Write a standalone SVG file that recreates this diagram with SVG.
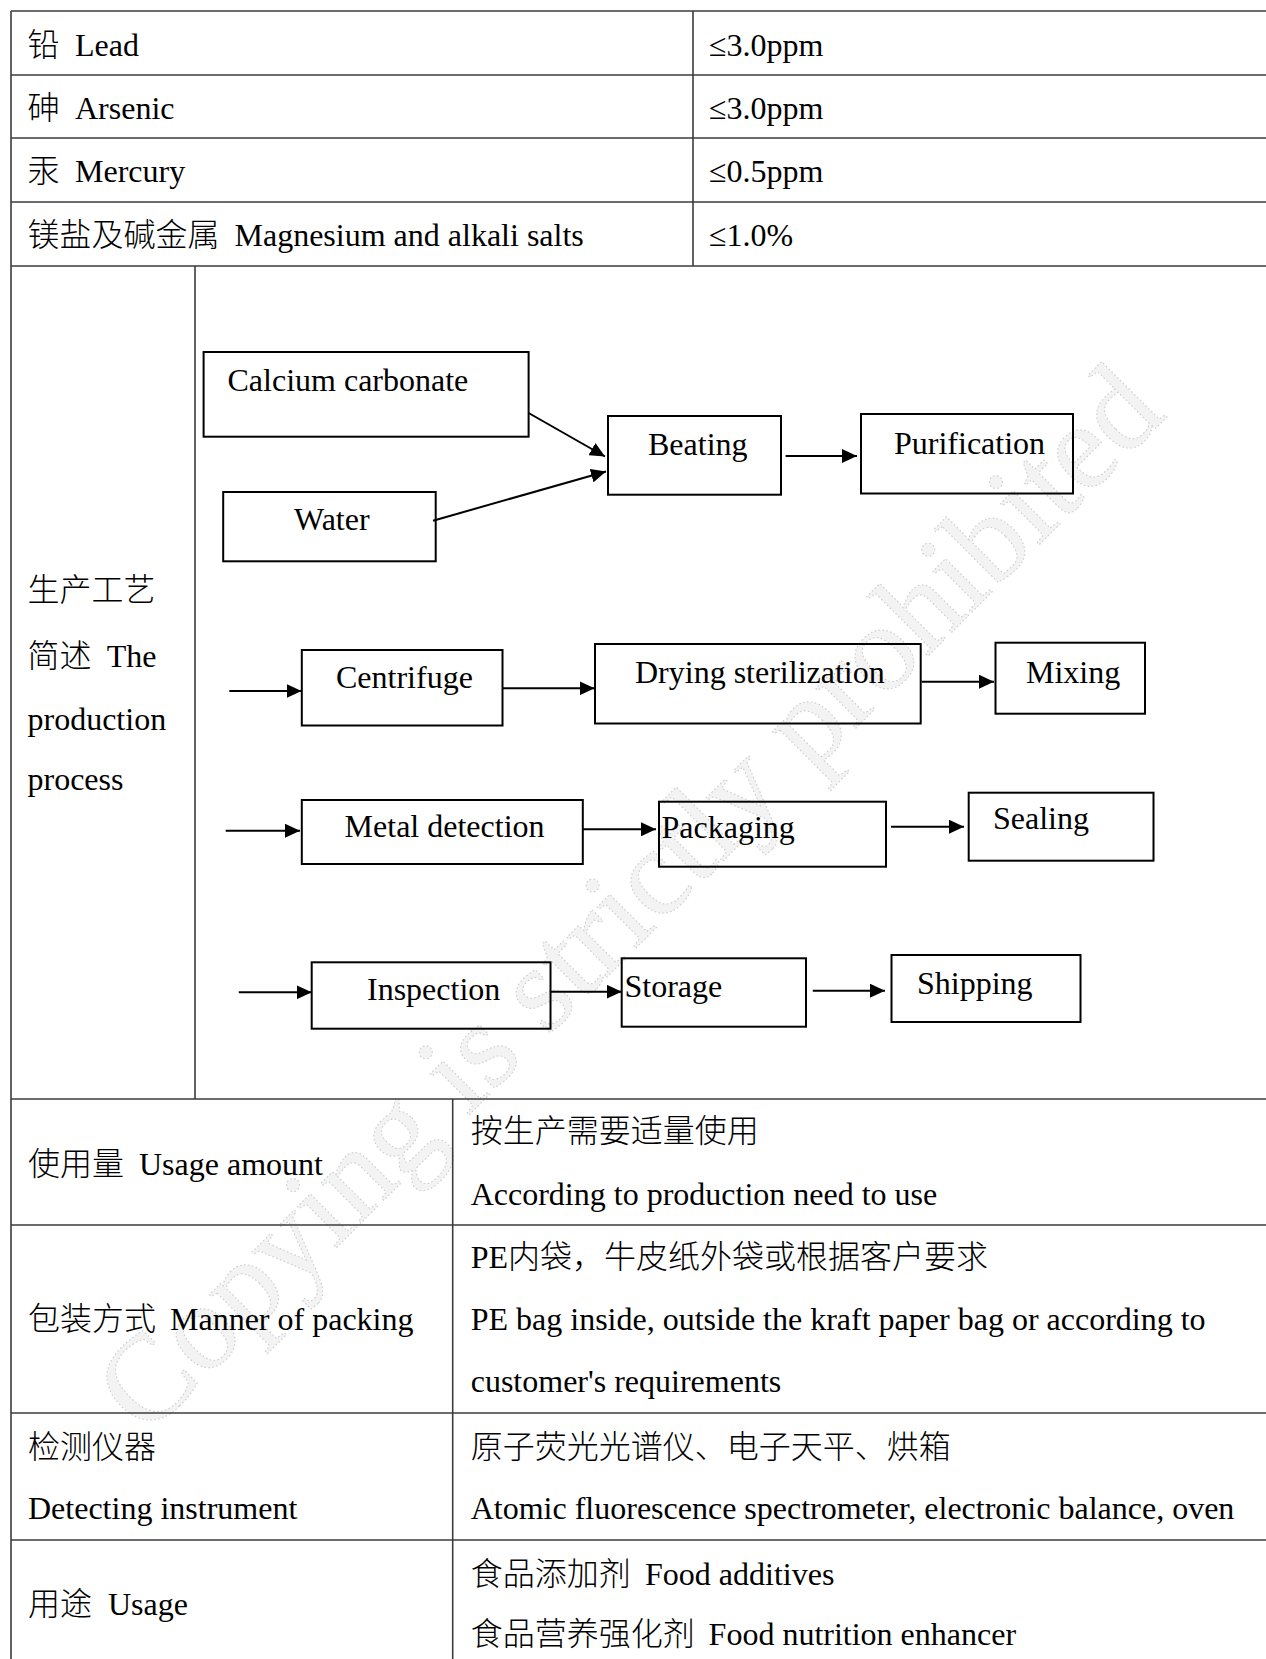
<svg xmlns="http://www.w3.org/2000/svg" width="1266" height="1659" viewBox="0 0 1266 1659">
<style>
.t{font-family:"Liberation Serif","Noto Sans CJK SC",serif;font-size:32px;fill:#000}
.c{font-family:"Noto Sans CJK SC",sans-serif;font-weight:300}
.grid{stroke:#3c3c3c;stroke-width:1.6;fill:none}
.box{fill:none;stroke:#000;stroke-width:2}
.conn{fill:none;stroke:#000;stroke-width:2;marker-end:url(#ah)}
.wm{font-family:"Liberation Serif",serif;font-size:123px;fill:#f3f3f3;stroke:#cdcdcd;stroke-width:1.1;stroke-dasharray:1.5 2.5}
</style>
<defs>
<marker id="ah" markerUnits="userSpaceOnUse" markerWidth="16" markerHeight="14" refX="15" refY="7" orient="auto">
<path d="M0,0 L15,7 L0,14 Z" fill="#000"/>
</marker>
</defs>
<rect width="1266" height="1659" fill="#fff"/>
<text class="wm" transform="translate(146,1438) rotate(-45)">Copying is strictly prohibited</text>

<g id="table">
<path class="grid" d="M11,11 H1266 M11,75 H1266 M11,138 H1266 M11,202 H1266 M11,266 H1266 M11,1099 H1266 M11,1225 H1266 M11,1413 H1266 M11,1540 H1266 M11,11 V1659 M693,11 V266 M195,266 V1099 M452.7,1099 V1659"/>
<text class="t" x="27.5" y="56"><tspan class="c">铅</tspan><tspan x="75">Lead</tspan></text>
<text class="t" x="27.5" y="119"><tspan class="c">砷</tspan><tspan x="75">Arsenic</tspan></text>
<text class="t" x="27.5" y="182"><tspan class="c">汞</tspan><tspan x="75">Mercury</tspan></text>
<text class="t" x="27.5" y="246"><tspan class="c">镁盐及碱金属</tspan><tspan x="234.5">Magnesium and alkali salts</tspan></text>
<text class="t" x="709" y="56">≤3.0ppm</text>
<text class="t" x="709" y="119">≤3.0ppm</text>
<text class="t" x="709" y="182">≤0.5ppm</text>
<text class="t" x="709" y="246">≤1.0%</text>
<text class="t c" x="27.5" y="601">生产工艺</text>
<text class="t" x="27.5" y="667"><tspan class="c">简述</tspan><tspan x="106.8">The</tspan></text>
<text class="t" x="27.5" y="730">production</text>
<text class="t" x="27.5" y="790">process</text>
<text class="t" x="28" y="1175"><tspan class="c">使用量</tspan><tspan x="139">Usage amount</tspan></text>
<text class="t c" x="470.7" y="1142">按生产需要适量使用</text>
<text class="t" x="470.7" y="1205">According to production need to use</text>
<text class="t" x="28" y="1330"><tspan class="c">包装方式</tspan><tspan x="170">Manner of packing</tspan></text>
<text class="t" x="470.7" y="1268">PE<tspan class="c">内袋，牛皮纸外袋或根据客户要求</tspan></text>
<text class="t" x="470.7" y="1330">PE bag inside, outside the kraft paper bag or according to</text>
<text class="t" x="470.7" y="1392">customer's requirements</text>
<text class="t c" x="28" y="1458">检测仪器</text>
<text class="t" x="28" y="1519">Detecting instrument</text>
<text class="t c" x="470.7" y="1458">原子荧光光谱仪、电子天平、烘箱</text>
<text class="t" x="470.7" y="1519">Atomic fluorescence spectrometer, electronic balance, oven</text>
<text class="t" x="28" y="1615"><tspan class="c">用途</tspan><tspan x="108">Usage</tspan></text>
<text class="t" x="470.7" y="1585"><tspan class="c">食品添加剂</tspan><tspan x="645">Food additives</tspan></text>
<text class="t" x="470.7" y="1645"><tspan class="c">食品营养强化剂</tspan><tspan x="708.6">Food nutrition enhancer</tspan></text>
</g>

<g id="connectors">
<path class="conn" d="M528.6,413 L605,456.5"/>
<path class="conn" d="M433,520.7 L606,471.5"/>
<path class="conn" d="M785.6,456 L857,456"/>
<path class="conn" d="M229.3,691 L301.5,691"/>
<path class="conn" d="M502.5,688.3 L594.6,688.3"/>
<path class="conn" d="M921.6,681.7 L994,681.7"/>
<path class="conn" d="M225.7,830.7 L300,830.7"/>
<path class="conn" d="M582.9,829.3 L656,829.3"/>
<path class="conn" d="M891,826.7 L964,826.7"/>
<path class="conn" d="M238.8,992.3 L311.7,992.3"/>
<path class="conn" d="M550.5,991.7 L621.7,991.7"/>
<path class="conn" d="M812.8,990.7 L885,990.7"/>
</g>

<g id="calcium"><rect class="box" x="203.6" y="352" width="325" height="84.7"/><text class="t" x="227.5" y="391">Calcium carbonate</text></g>
<g id="water"><rect class="box" x="223.2" y="492" width="212.5" height="69.3"/><text class="t" x="294" y="530">Water</text></g>
<g id="beating"><rect class="box" x="608" y="416" width="173" height="78.7"/><text class="t" x="648" y="455">Beating</text></g>
<g id="purification"><rect class="box" x="861" y="414" width="212" height="79.5"/><text class="t" x="894" y="454">Purification</text></g>
<g id="centrifuge"><rect class="box" x="301.8" y="650" width="200.7" height="75.5"/><text class="t" x="336" y="688">Centrifuge</text></g>
<g id="drying"><rect class="box" x="595" y="644" width="325.7" height="79.5"/><text class="t" x="635" y="683">Drying sterilization</text></g>
<g id="mixing"><rect class="box" x="995.5" y="642.7" width="149.5" height="71"/><text class="t" x="1026" y="683">Mixing</text></g>
<g id="metal"><rect class="box" x="301.8" y="800" width="281" height="64"/><text class="t" x="344.6" y="837">Metal detection</text></g>
<g id="packaging"><rect class="box" x="659" y="801.7" width="227" height="65"/><text class="t" x="661.5" y="838">Packaging</text></g>
<g id="sealing"><rect class="box" x="968.7" y="792.7" width="184.8" height="68"/><text class="t" x="993" y="829">Sealing</text></g>
<g id="inspection"><rect class="box" x="311.7" y="962.3" width="238.8" height="66.4"/><text class="t" x="367" y="1000">Inspection</text></g>
<g id="storage"><rect class="box" x="621.7" y="958.3" width="184.3" height="68.4"/><text class="t" x="624.5" y="997">Storage</text></g>
<g id="shipping"><rect class="box" x="891.5" y="955" width="189" height="67"/><text class="t" x="917" y="994">Shipping</text></g>
</svg>
